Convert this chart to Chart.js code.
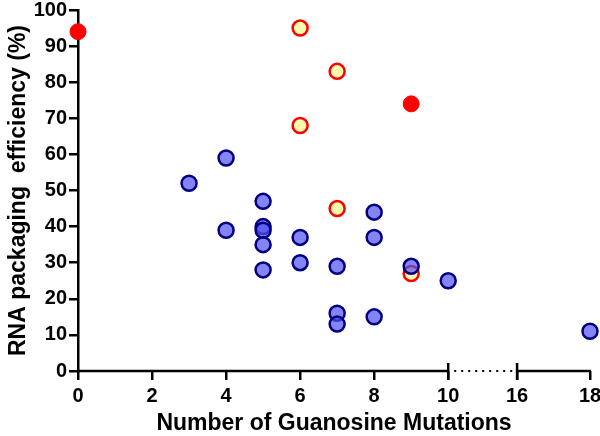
<!DOCTYPE html>
<html lang="en">
<head>
  <meta charset="UTF-8">
  <title>RNA packaging efficiency</title>
  <script src="https://cdn.jsdelivr.net/npm/chart.js"></script>
  <style>
    body { margin: 0; padding: 0; background: #fff; }
    .wrap { width: 600px; height: 436px; }
  </style>
</head>
<body>
  <div class="wrap"><canvas id="chart" width="600" height="436"></canvas></div>

  <script>
    // Data
    const blueX = [3, 4, 4, 5, 5, 5, 5, 5, 6, 6, 7, 7, 7, 8, 8, 8, 9, 10, 18];
    const blueY = [52, 59, 39, 47, 40, 39, 35, 28, 37, 30, 29, 16, 13, 44, 37, 15, 29, 25, 11];
    const yellowX = [6, 6, 7, 7, 9];
    const yellowY = [95, 68, 83, 45, 27];
    const redX = [0, 9];
    const redY = [94, 74];
    const xTickLabels = [0, 2, 4, 6, 8, 10, 16, 18];
    const yTickLabels = [0, 10, 20, 30, 40, 50, 60, 70, 80, 90, 100];

    // broken x axis: 0-10 linear, 10..16 compressed, 16-18 linear
    const GAP = 1.86;
    function toAxis(x) { return x <= 10 ? x : 10 + GAP + (x - 16) * 0.985; }
    function fromAxis(u) {
      if (u <= 10.001) return Math.round(u);
      return Math.round(16 + (u - 10 - GAP) / 0.985);
    }
    const pts = (xs, ys) => xs.map((x, i) => ({ x: toAxis(x), y: ys[i] }));

    const family = 'Arial, "Liberation Sans", sans-serif';
    const tickFont = { family: family, weight: 'bold', size: 20 };
    const titleFont = { family: family, weight: 'bold', size: 23, lineHeight: 1.0 };

    // draws x axis line with dotted break between 10 and 16
    const brokenAxis = {
      id: 'brokenAxis',
      afterDatasetsDraw(chart) {
        const c = chart.ctx, xs = chart.scales.x, y0 = chart.scales.y.getPixelForValue(0);
        const p0 = xs.getPixelForValue(toAxis(0)), p10 = xs.getPixelForValue(toAxis(10));
        const p16 = xs.getPixelForValue(toAxis(16)), p18 = xs.getPixelForValue(toAxis(18));
        c.save();
        c.strokeStyle = '#000';
        c.lineWidth = 2.5;
        c.beginPath();
        c.moveTo(p0 - 1, y0); c.lineTo(p10, y0);
        c.moveTo(p16, y0); c.lineTo(p18 + 1, y0);
        // break markers
        c.moveTo(p10, y0 - 8); c.lineTo(p10, y0 + 9);
        c.moveTo(p16, y0 - 8); c.lineTo(p16, y0 + 9);
        c.stroke();
        c.lineWidth = 2;
        c.setLineDash([2, 5]);
        c.beginPath();
        c.moveTo(p10 + 6, y0); c.lineTo(p16 - 3, y0);
        c.stroke();
        c.restore();
      }
    };

    new Chart(document.getElementById('chart'), {
      type: 'scatter',
      data: {
        datasets: [
          {
            data: pts(blueX, blueY),
            backgroundColor: 'rgba(80, 80, 240, 0.7)',
            borderColor: '#000080',
            borderWidth: 2.5,
            pointRadius: 7.5,
            clip: false
          },
          {
            data: pts(yellowX, yellowY),
            backgroundColor: 'rgba(250, 250, 160, 0.85)',
            borderColor: '#ff0000',
            borderWidth: 2.5,
            pointRadius: 7.5,
            clip: false
          },
          {
            data: pts(redX, redY),
            backgroundColor: '#ff0000',
            borderColor: '#ff0000',
            borderWidth: 1,
            pointRadius: 8,
            clip: false
          }
        ]
      },
      options: {
        responsive: false,
        animation: false,
        layout: { padding: { top: 7, right: 9, left: 0, bottom: 0 } },
        plugins: { legend: { display: false }, tooltip: { enabled: false } },
        scales: {
          x: {
            type: 'linear',
            min: 0,
            max: toAxis(18),
            afterBuildTicks(scale) {
              scale.ticks = xTickLabels.map(v => ({ value: toAxis(v) }));
            },
            afterFit(scale) {
              scale.height = 65;
              scale.paddingLeft = 0;
              scale.paddingRight = 0;
            },
            border: { display: false },
            grid: { drawOnChartArea: false, color: '#000', lineWidth: 2.5, tickLength: 9 },
            ticks: {
              color: '#000', font: tickFont, padding: 4, maxRotation: 0,
              callback: v => String(fromAxis(v))
            },
            title: {
              display: true, text: 'Number of Guanosine Mutations',
              color: '#000', font: titleFont,
              padding: { top: 0, bottom: 1 }
            }
          },
          y: {
            min: 0,
            max: 100,
            afterBuildTicks(scale) {
              scale.ticks = yTickLabels.map(v => ({ value: v }));
            },
            afterFit(scale) {
              scale.width = 78;
              scale.paddingTop = 0;
              scale.paddingBottom = 0;
            },
            border: { display: true, color: '#000', width: 2.5 },
            grid: { drawOnChartArea: false, color: '#000', lineWidth: 2.5, tickLength: 9 },
            ticks: { color: '#000', font: tickFont, padding: 2 },
            title: {
              display: true, text: 'RNA packaging  efficiency (%)',
              color: '#000', font: titleFont,
              padding: { top: 7, bottom: 0 }
            }
          }
        }
      },
      plugins: [brokenAxis]
    });
  </script>
</body>
</html>
